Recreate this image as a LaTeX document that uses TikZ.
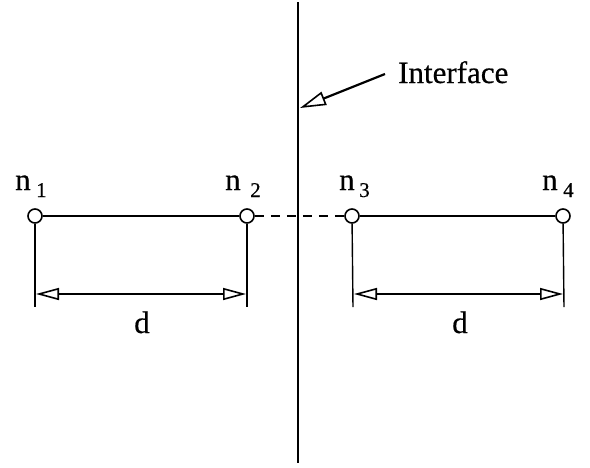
\documentclass[tikz,border=0pt]{standalone}
\usepackage{fontspec}
\setmainfont{Liberation Serif}[UprightFeatures={FakeBold=0.5}]
\usetikzlibrary{arrows.meta}
\begin{document}
\begin{tikzpicture}[x=1pt,y=-1pt,
  pt/.style={circle,draw,fill=white,minimum size=14pt,inner sep=0pt,line width=1.6pt},
  lbl/.style={anchor=base west,inner sep=0pt,font=\fontsize{31}{31}\selectfont},
  sub/.style={anchor=base west,inner sep=0pt,font=\fontsize{21}{21}\selectfont},
  ext/.style={line width=1.4pt},
  link/.style={line width=1.7pt},
  dimline/.style={line width=2.2pt,
    {Triangle[open,length=23pt,width=12pt,line width=1.6pt]}-{Triangle[open,length=23pt,width=12pt,line width=1.6pt]}},
]
\useasboundingbox (0,0) rectangle (590,467);

% interface
\coordinate (itop) at (298,2);
\coordinate (ibot) at (298,463);
\draw[line width=2.8pt] (itop) -- (ibot);

\node[lbl] (iface) at (398,83) {Interface};
\coordinate (atail) at (385,74);
\coordinate (atip) at (300,108);
\draw[line width=2.2pt,-{Triangle[open,length=26pt,width=14pt,line width=1.6pt]}] (atail) -- (atip);

% points
\node[pt] (n1) at (35,216) {};
\node[pt] (n2) at (247,216) {};
\node[pt] (n3) at (352,216) {};
\node[pt] (n4) at (563,216) {};

\draw[link] (n1) -- (n2);
\draw[link] (n3) -- (n4);
\draw[link,dash pattern=on 9pt off 7pt] (n2) -- (n3);

% labels
\node[lbl] (l1) at (15,190) {n};
\node[sub] (s1) at (36,197) {1};
\node[lbl] (l2) at (225,190) {n};
\node[sub] (s2) at (250,197) {2};
\node[lbl] (l3) at (339,190) {n};
\node[sub] (s3) at (359,197) {3};
\node[lbl] (l4) at (542,190) {n};
\node[sub] (s4) at (563,197) {4};

% extension lines
\coordinate (e1) at (35,307);
\coordinate (e2) at (247,307);
\coordinate (e3) at (353,307);
\coordinate (e4) at (564,307);
\draw[ext] (n1) -- (e1);
\draw[ext] (n2) -- (e2);
\draw[ext] (n3) -- (e3);
\draw[ext] (n4) -- (e4);

% dimension arrows
\coordinate (d1) at (36,294);
\coordinate (d2) at (246,294);
\coordinate (d3) at (354,294);
\coordinate (d4) at (563,294);
\draw[dimline] (d1) -- (d2);
\draw[dimline] (d3) -- (d4);

\node[lbl,anchor=base] (dl) at (142,333) {d};
\node[lbl,anchor=base] (dr) at (460,333) {d};
\end{tikzpicture}
\end{document}
